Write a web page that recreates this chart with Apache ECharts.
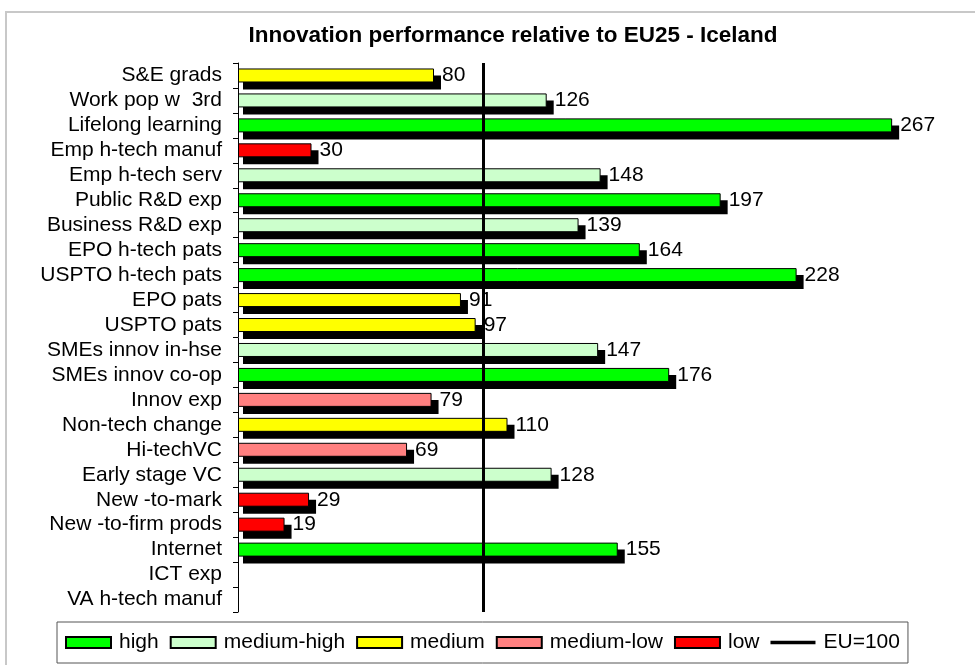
<!DOCTYPE html>
<html>
<head>
<meta charset="utf-8">
<script src="https://cdn.jsdelivr.net/npm/echarts@6/dist/echarts.min.js"></script>
<style>
  html, body { margin: 0; padding: 0; background: #fff; overflow: hidden; }
  #container { width: 975px; height: 665px; }
</style>
</head>
<body>
<div id="container"></div>
<script>
// indicators, top to bottom
const categories = [
  'S&E grads', 'Work pop w  3rd', 'Lifelong learning', 'Emp h-tech manuf',
  'Emp h-tech serv', 'Public R&D exp', 'Business R&D exp', 'EPO h-tech pats',
  'USPTO h-tech pats', 'EPO pats', 'USPTO pats', 'SMEs innov in-hse',
  'SMEs innov co-op', 'Innov exp', 'Non-tech change', 'Hi-techVC',
  'Early stage VC', 'New -to-mark', 'New -to-firm prods', 'Internet',
  'ICT exp', 'VA h-tech manuf'
];
const values = [80, 126, 267, 30, 148, 197, 139, 164, 228, 91, 97, 147,
  176, 79, 110, 69, 128, 29, 19, 155, null, null];
// performance class per indicator
const classes = ['medium', 'medium-high', 'high', 'low', 'medium-high', 'high',
  'medium-high', 'high', 'high', 'medium', 'medium', 'medium-high', 'high',
  'medium-low', 'medium', 'medium-low', 'medium-high', 'low', 'low', 'high',
  null, null];
const classNames = ['high', 'medium-high', 'medium', 'medium-low', 'low'];
const classColors = ['#00ff00', '#ccffcc', '#ffff00', '#ff8080', '#ff0000'];
const euLevel = 100;

const FONT = 'Liberation Sans, Arial, sans-serif';
const BAR_H = 14;

let dom = document.getElementById('container');
let myChart = echarts.init(dom);

// black drop shadow behind every bar
let shadowSeries = {
  type: 'custom',
  silent: true,
  z: 1,
  data: values.map(function (v, i) { return [v, i]; }),
  encode: { x: 0, y: 1 },
  renderItem: function (params, api) {
    let v = api.value(0);
    if (v == null || isNaN(v)) return;
    let p0 = api.coord([0, api.value(1)]);
    let p1 = api.coord([v, api.value(1)]);
    return {
      type: 'rect',
      shape: { x: p0[0] + 5, y: p0[1] - BAR_H / 2 + 7, width: p1[0] - p0[0] + 2, height: BAR_H },
      style: { fill: '#000' }
    };
  }
};

// one bar series per class, all drawn on the same slot
let series = classNames.map(function (name, k) {
  return {
    name: name,
    type: 'bar',
    z: 3,
    barWidth: BAR_H,
    barGap: '-100%',
    data: values.map(function (v, i) {
      return classes[i] === name ? v : null;
    }),
    itemStyle: {
      color: classColors[k],
      borderColor: '#000',
      borderWidth: 1
    },
    label: {
      show: true,
      position: 'right',
      distance: 8,
      color: '#000',
      fontSize: 21,
      fontFamily: FONT
    },
    emphasis: { disabled: true },
    silent: true
  };
});

series.push(shadowSeries);

series.push({
  name: 'EU=100',
  type: 'line',
  z: 5,
  data: [],
  symbol: 'none',
  itemStyle: { color: '#000' },
  lineStyle: { color: '#000', width: 3 },
  markLine: {
    silent: true,
    symbol: 'none',
    label: { show: false },
    lineStyle: { color: '#000', width: 3, type: 'solid' },
    data: [{ xAxis: euLevel }]
  }
});

let option = {
  animation: false,
  backgroundColor: '#fff',
  grid: { left: 238, top: 63, width: 735, height: 549 },
  xAxis: {
    type: 'value',
    min: 0,
    max: 300,
    show: false
  },
  yAxis: {
    type: 'category',
    inverse: true,
    data: categories,
    axisLine: { show: true, lineStyle: { color: '#000', width: 1 } },
    axisTick: { show: true, length: 5, lineStyle: { color: '#000' } },
    axisLabel: { color: '#000', fontSize: 21, fontFamily: FONT, margin: 16, interval: 0 },
    splitLine: { show: false }
  },
  legend: {
    left: 57,
    top: 622,
    padding: [10, 8, 10, 8],
    backgroundColor: '#fff',
    borderColor: '#555',
    borderWidth: 1,
    itemWidth: 45,
    itemHeight: 11,
    itemGap: 11,
    selectedMode: false,
    textStyle: { color: '#000', fontSize: 21, fontFamily: FONT, padding: [0, 0, 0, 3] },
    data: classNames.map(function (n) { return { name: n, icon: 'rect' }; }).concat([
      { name: 'EU=100', icon: 'path://M0,0H40V3H0Z' }
    ])
  },
  graphic: {
    elements: [{
      type: 'polyline',
      shape: { points: [[6, 665], [6, 12], [975, 12]] },
      style: { fill: null, stroke: '#c8c8c8', lineWidth: 2 },
      z: -10
    }, {
      type: 'text',
      x: 513,
      y: 36,
      style: {
        text: 'Innovation performance relative to EU25 - Iceland',
        font: 'bold 22.5px ' + FONT,
        fill: '#000',
        align: 'center',
        verticalAlign: 'middle'
      }
    }]
  },
  series: series
};

myChart.setOption(option);
</script>
</body>
</html>
